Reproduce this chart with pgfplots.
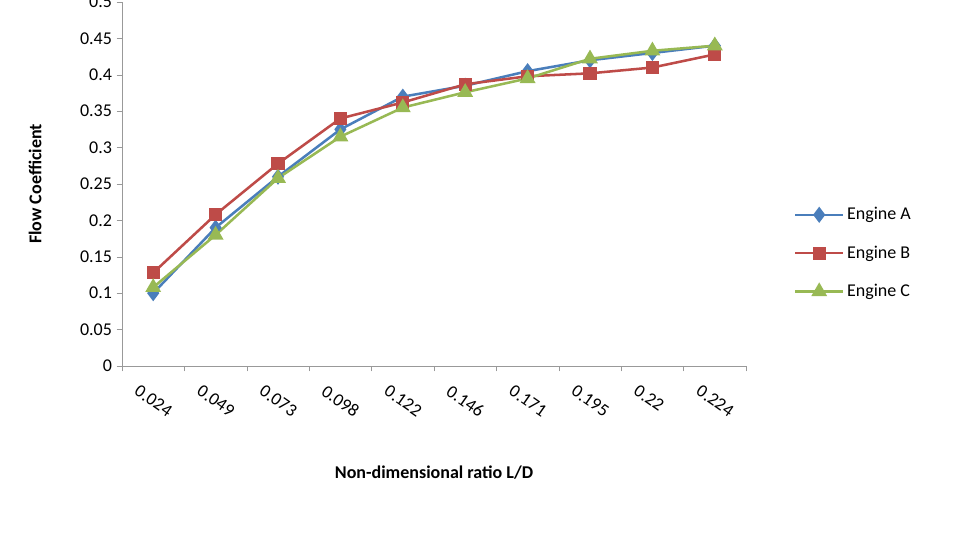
\documentclass[border=0pt]{standalone}
\usepackage{pgfplots}
\pgfplotsset{compat=1.18}
\usepackage{fontspec}
\setmainfont{Carlito}
\definecolor{ca}{RGB}{74,126,187}
\definecolor{cb}{RGB}{190,75,72}
\definecolor{cc}{RGB}{152,185,84}
\begin{document}
\begin{tikzpicture}[x=1pt,y=1pt]
\useasboundingbox (-91.5,-126.75) rectangle (630.75,274.5);
\begin{axis}[
  at={(0,0)}, anchor=south west,
  scale only axis, width=468pt, height=273pt,
  xmin=0.5, xmax=10.5, ymin=0, ymax=0.5,
  axis x line*=bottom, axis y line*=left,
  axis line style={gray!80},
  xtick={1,...,10}, major x tick style={draw=none},
  minor xtick={0.5,1.5,...,10.5},
  xticklabels={0.024,0.049,0.073,0.098,0.122,0.146,0.171,0.195,0.22,0.224},
  xticklabel style={rotate=-35, anchor=north west, xshift=-6pt, yshift=-10pt},
  ytick={0,0.05,...,0.51},
  yticklabel style={/pgf/number format/fixed,/pgf/number format/precision=2},
  /pgf/number format/assume math mode=true,
  tick style={gray!80}, tick align=outside,
  minor tick length=4pt, major tick length=4pt,
  tick label style={font=\fontsize{13.5}{16}\selectfont},
  xlabel={\textbf{Non-dimensional ratio L/D}},
  ylabel={\textbf{Flow Coefficient}},
  label style={font=\fontsize{13.5}{16}\selectfont},
  xlabel style={yshift=-28pt},
  ylabel style={yshift=22pt},
  legend style={draw=none, at={(1.07,0.31)}, anchor=west, font=\fontsize{13.5}{16}\selectfont, row sep=14pt},
  legend cell align=left,
  legend image code/.code={\draw[#1,mark repeat=2,mark phase=2] plot coordinates {(0pt,0pt)(18pt,0pt)(36pt,0pt)};},
  every axis plot/.append style={line width=1.9pt},
]
\addplot[ca, mark=diamond*, mark size=4.5pt] coordinates {(1,0.100)(2,0.190)(3,0.260)(4,0.325)(5,0.370)(6,0.385)(7,0.405)(8,0.420)(9,0.430)(10,0.440)};
\addplot[cb, mark=square*, mark size=4pt] coordinates {(1,0.128)(2,0.208)(3,0.278)(4,0.340)(5,0.362)(6,0.387)(7,0.398)(8,0.402)(9,0.410)(10,0.428)};
\addplot[cc, mark=triangle*, mark size=5pt] coordinates {(1,0.108)(2,0.180)(3,0.258)(4,0.315)(5,0.355)(6,0.376)(7,0.395)(8,0.422)(9,0.433)(10,0.440)};
\legend{Engine A,Engine B,Engine C}
\end{axis}
\end{tikzpicture}
\end{document}
